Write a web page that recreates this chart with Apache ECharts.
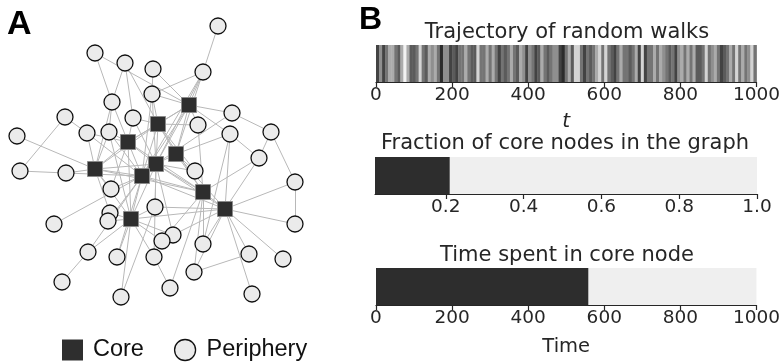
<!DOCTYPE html>
<html>
<head>
<meta charset="utf-8">
<script src="https://cdn.jsdelivr.net/npm/echarts@6/dist/echarts.min.js"></script>
<style>
  html, body { margin: 0; padding: 0; background: #fff; }
  #chart { width: 783px; height: 362px; }
</style>
</head>
<body>
<div id="chart"></div>
<script>
// ---- panel A: node layout ----
const coreNodes = [
  [189,105],[158,124],[128,142],[176,154],[156,164],
  [95,169],[142,176],[203,192],[225,209],[131,219]
];
const peripheryNodes = [
  [218,26],[95,53],[125,63],[153,69],[203,72],[152,94],[112,102],[65,117],
  [133,118],[232,113],[198,125],[17,136],[87,133],[109,132],[230,134],[271,132],
  [259,158],[20,171],[66,173],[195,171],[295,182],[111,189],[155,207],[54,224],
  [110,213],[108,221],[295,224],[173,235],[162,241],[203,244],[88,252],[117,257],
  [154,257],[249,254],[283,259],[194,272],[62,282],[170,288],[252,294],[121,297]
];
const edges = [
  ['P0','P4'],
  ['P1','P6'],['P1','C0'],
  ['P2','P6'],['P2','C1'],['P2','P8'],
  ['P3','P5'],['P3','C0'],
  ['P4','P5'],['P4','C0'],['P4','C3'],['P4','C4'],['P4','C6'],
  ['P5','C0'],['P5','C1'],['P5','C4'],['P5','C6'],
  ['P6','C2'],['P6','C5'],['P6','P13'],
  ['P7','P12'],['P7','P17'],
  ['P8','C2'],['P8','C1'],['P8','C4'],
  ['P9','P15'],['P9','C0'],['P9','C4'],
  ['P10','C0'],['P10','C7'],['P10','C1'],
  ['P11','C5'],
  ['P12','C5'],['P12','C2'],['P12','C6'],
  ['P13','C2'],['P13','C5'],['P13','C6'],['P13','C9'],
  ['P14','C0'],['P14','C3'],['P14','P16'],['P14','C8'],['P14','P29'],
  ['P15','P16'],['P15','P20'],
  ['P16','C8'],['P16','C7'],
  ['P17','P18'],
  ['P18','C5'],['P18','C6'],
  ['P19','C3'],['P19','C4'],['P19','C1'],
  ['P20','C8'],['P20','P26'],
  ['P21','C5'],['P21','C2'],['P21','C6'],
  ['P22','C8'],['P22','C4'],['P22','C9'],
  ['P23','C6'],
  ['P24','C9'],['P24','C5'],
  ['P25','C9'],['P25','C6'],
  ['P26','C8'],
  ['P27','C9'],['P27','C4'],['P27','C8'],
  ['P28','C9'],['P28','C7'],
  ['P29','C8'],['P29','C7'],
  ['P30','P36'],['P30','C9'],['P30','C6'],
  ['P31','C9'],['P31','C6'],
  ['P32','C9'],['P32','P37'],['P32','C4'],
  ['P33','C8'],['P33','P35'],
  ['P34','C8'],
  ['P35','C7'],['P35','C8'],
  ['P37','C7'],
  ['P38','C8'],
  ['P39','C9'],['P39','P22'],
  // core - core
  ['C0','C1'],['C0','C2'],['C0','C3'],['C0','C4'],['C0','C6'],
  ['C1','C2'],['C1','C3'],['C1','C4'],['C1','C6'],['C1','C5'],['C1','C7'],
  ['C2','C4'],['C2','C5'],['C2','C6'],['C2','C9'],['C2','C7'],
  ['C3','C4'],['C3','C7'],['C3','C8'],
  ['C4','C6'],['C4','C7'],['C4','C9'],['C4','C8'],['C4','C5'],
  ['C5','C6'],['C5','C7'],['C5','C9'],
  ['C6','C9'],['C6','C7'],['C6','C8'],
  ['C7','C8'],['C9','C8']
];

// ---- panel B ----
// grey level of the walk, one digit per 8 time steps (0 = black .. 8 = white)
const walkShade =
  '25246643686334743656' + '41552324464337446464' + '2' +
  '43464365254236434552' + '14637742434674743246' + '44' +
  '34627244646543425646' + '46334745642346474645' + '74';
const walkBin = 8;
const coreFraction = 0.21;
const fractionTicks = [0.2, 0.4, 0.6, 0.8, 1.0];
const coreTime = 558;
const totalTime = 1000;

const greys = ['#1c1c1c','#2c2c2c','#434343','#5b5b5b','#747474','#8f8f8f','#ababab','#d4d4d4','#f2f2f2'];

const nodes = [];
coreNodes.forEach((p, i) => nodes.push({ name: 'C' + i, value: p, category: 0 }));
peripheryNodes.forEach((p, i) => nodes.push({ name: 'P' + i, value: p, category: 1 }));

const walkData = walkShade.split('').map((d, i) => [i * walkBin, (i + 1) * walkBin, +d]);

const chart = echarts.init(document.getElementById('chart'));

const axisCol = '#262626';
const bFont = 'DejaVu Sans';
const tickLabel = { fontSize: 18.5, color: axisCol, fontFamily: bFont, margin: 4 };
const timeLabel = Object.assign({ formatter: v => String(v) }, tickLabel);
const axisLine = { show: true, lineStyle: { color: axisCol, width: 1.2 } };
const axisTick = { show: true, length: 5, lineStyle: { color: axisCol, width: 1.2 } };
const titleFont = '21px "DejaVu Sans"';

chart.setOption({
  animation: false,
  grid: [
    { left: 0, top: 0, width: 320, height: 362 },
    { left: 376, top: 45, width: 382, height: 37 },
    { left: 375, top: 157, width: 382, height: 37 },
    { left: 376, top: 268, width: 382, height: 37 }
  ],
  xAxis: [
    { gridIndex: 0, type: 'value', min: 0, max: 320, show: false },
    { gridIndex: 1, type: 'value', min: 0, max: totalTime, interval: 200,
      axisLine, axisTick, axisLabel: timeLabel, splitLine: { show: false },
      name: 't', nameLocation: 'middle', nameGap: 30,
      nameTextStyle: { fontSize: 20, fontStyle: 'italic', color: axisCol, fontFamily: bFont } },
    { gridIndex: 2, type: 'value', min: 0.018, max: 1,
      axisLine,
      axisTick: Object.assign({ customValues: fractionTicks }, axisTick),
      axisLabel: Object.assign({ customValues: fractionTicks, formatter: v => v.toFixed(1) }, tickLabel),
      splitLine: { show: false } },
    { gridIndex: 3, type: 'value', min: 0, max: totalTime, interval: 200,
      axisLine, axisTick, axisLabel: timeLabel, splitLine: { show: false },
      name: 'Time', nameLocation: 'middle', nameGap: 32,
      nameTextStyle: { fontSize: 19.5, color: axisCol, fontFamily: bFont } }
  ],
  yAxis: [
    { gridIndex: 0, type: 'value', min: 0, max: 362, inverse: true, show: false },
    { gridIndex: 1, type: 'value', min: 0, max: 1, show: false },
    { gridIndex: 2, type: 'category', data: ['fraction'], show: false },
    { gridIndex: 3, type: 'category', data: ['time'], show: false }
  ],
  legend: {
    left: 57, top: 333, itemWidth: 21, itemHeight: 21, itemGap: 30,
    selectedMode: false,
    textStyle: { fontSize: 23.5, fontFamily: 'Liberation Sans', color: '#111', padding: [0, 0, 0, 5] },
    data: [
      { name: 'Core', icon: 'rect', itemStyle: { color: '#2e2e2e', borderColor: '#2e2e2e', borderWidth: 0 } },
      { name: 'Periphery', icon: 'circle', itemStyle: { color: '#ebebeb', borderColor: '#111', borderWidth: 1.3 },
        textStyle: { padding: [0, 0, 0, 6] } }
    ]
  },
  graphic: [
    { type: 'text', left: 7, top: 8, style: { text: 'A', font: 'bold 34px "Liberation Sans"', fill: '#000' } },
    { type: 'text', left: 359, top: 4, style: { text: 'B', font: 'bold 32px "Liberation Sans"', fill: '#000' } },
    { type: 'text', x: 567, y: 33, style: { text: 'Trajectory of random walks', align: 'center', verticalAlign: 'middle',
      font: titleFont, fill: axisCol } },
    { type: 'text', x: 565, y: 144, style: { text: 'Fraction of core nodes in the graph', align: 'center', verticalAlign: 'middle',
      font: titleFont, fill: axisCol } },
    { type: 'text', x: 567, y: 256, style: { text: 'Time spent in core node', align: 'center', verticalAlign: 'middle',
      font: titleFont, fill: axisCol } }
  ],
  series: [
    {
      type: 'graph',
      coordinateSystem: 'cartesian2d',
      xAxisIndex: 0, yAxisIndex: 0,
      silent: true,
      categories: [
        { name: 'Core', symbol: 'rect', symbolSize: 15,
          itemStyle: { color: '#2e2e2e', borderColor: '#8a8a8a', borderWidth: 1 } },
        { name: 'Periphery', symbol: 'circle', symbolSize: 16,
          itemStyle: { color: '#ebebeb', borderColor: '#111', borderWidth: 1.3 } }
      ],
      data: nodes,
      links: edges.map(e => ({ source: e[0], target: e[1] })),
      lineStyle: { color: '#b8b8b8', width: 1, opacity: 1, curveness: 0 },
      label: { show: false }
    },
    {
      type: 'custom',
      xAxisIndex: 1, yAxisIndex: 1,
      silent: true,
      data: walkData,
      renderItem: (params, api) => {
        const a = api.coord([api.value(0), 1]);
        const b = api.coord([api.value(1), 0]);
        return {
          type: 'rect',
          shape: { x: a[0], y: a[1], width: b[0] - a[0] + 0.4, height: b[1] - a[1] },
          style: { fill: greys[api.value(2)] }
        };
      }
    },
    { type: 'bar', xAxisIndex: 2, yAxisIndex: 2, data: [1], barWidth: '100%', barGap: '-100%',
      itemStyle: { color: '#efefef' }, silent: true },
    { type: 'bar', xAxisIndex: 2, yAxisIndex: 2, data: [coreFraction], barWidth: '100%', barGap: '-100%',
      itemStyle: { color: '#2d2d2d' }, silent: true },
    { type: 'bar', xAxisIndex: 3, yAxisIndex: 3, data: [totalTime], barWidth: '100%', barGap: '-100%',
      itemStyle: { color: '#efefef' }, silent: true },
    { type: 'bar', xAxisIndex: 3, yAxisIndex: 3, data: [coreTime], barWidth: '100%', barGap: '-100%',
      itemStyle: { color: '#2d2d2d' }, silent: true }
  ]
});
</script>
</body>
</html>
